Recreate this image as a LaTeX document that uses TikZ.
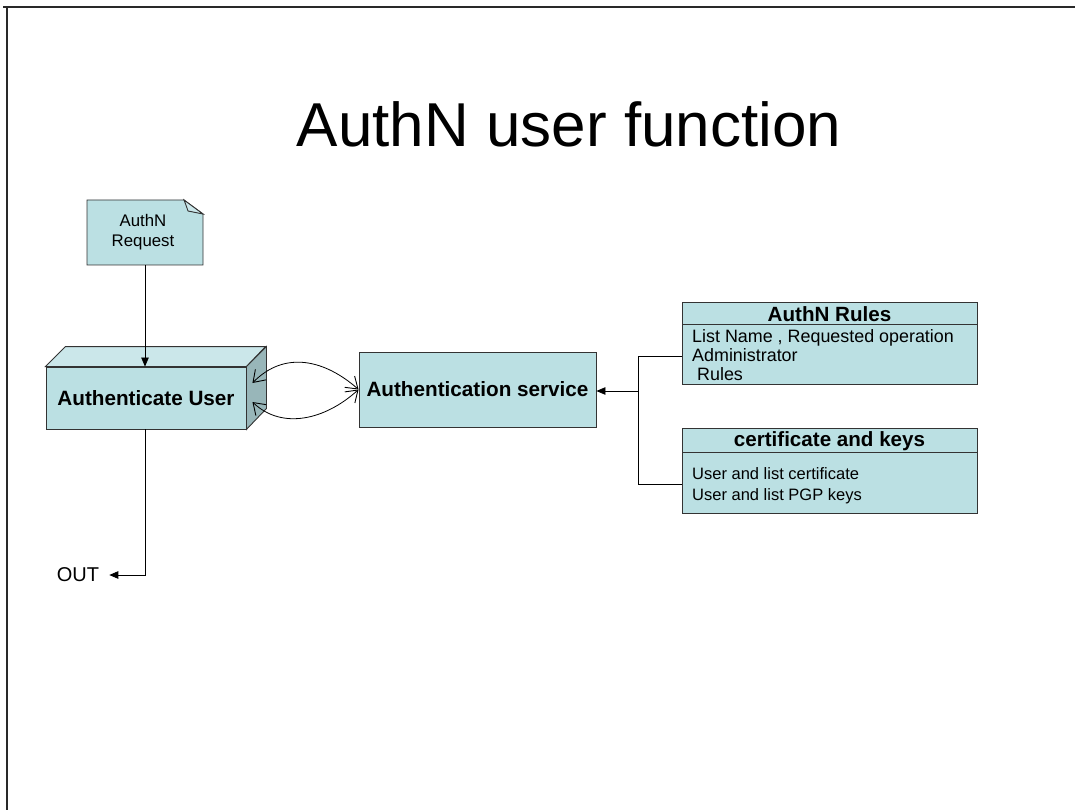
\documentclass[tikz,border=0pt]{standalone}
\usepackage{fontspec}
\setmainfont{Liberation Sans}
\usetikzlibrary{arrows.meta}

\definecolor{boxfill}{HTML}{BBE0E3}
\definecolor{boxtop}{HTML}{CBE7EA}
\definecolor{boxside}{HTML}{98B6B9}
\definecolor{edge}{HTML}{333333}

\tikzset{
  frameline/.style={draw=edge!80!black, line width=1.4pt},
  plainbox/.style={draw=edge, fill=boxfill, line width=0.9pt, inner sep=0pt},
  boldlabel/.style={font=\fontsize{20.7}{24}\selectfont\bfseries, inner sep=0pt},
  headlabel/.style={font=\fontsize{20.6}{24}\selectfont\bfseries, inner sep=0pt},
  rulesline/.style={font=\fontsize{17.9}{20}\selectfont, inner sep=0pt, anchor=base west},
  bodyline/.style={font=\fontsize{16.5}{19}\selectfont, inner sep=0pt, anchor=base west},
  smalllabel/.style={font=\fontsize{16.8}{19.5}\selectfont, align=center, inner sep=0pt},
  wire/.style={draw=black, line width=0.8pt},
  solidtip/.style={-{Triangle[length=9pt,width=7.5pt]}},
  twoway/.style={{Straight Barb[length=11pt,width=15pt,line width=0.9pt]}-{Straight Barb[length=11pt,width=15pt,line width=0.9pt]}},
}

\begin{document}
\begin{tikzpicture}[x=1pt,y=-1pt]
\useasboundingbox (0,0) rectangle (1076,810);

% slide frame
\draw[frameline] (3,7) -- (1075,7);
\draw[frameline] (7,7) -- (7,810);

% title
\node[font=\fontsize{62}{70}\selectfont, inner sep=0pt] (title) at (569,124) {AuthN user function};

% request note with folded corner
\draw[plainbox] (87,200) -- (184,200) -- (203,214) -- (203,265) -- (87,265) -- cycle;
\draw[draw=edge, fill=boxtop, line width=0.9pt] (184,200) .. controls (186,205) and (187,208) .. (188,211) -- (203,214) -- cycle;
\node[smalllabel] (req) at (143,232) {AuthN\\Request};
\coordinate (reqbot) at (145,265);

% authenticate user block (front, top and side faces)
\node[plainbox, minimum width=200pt, minimum height=62pt] (auth) at (146,398) {};
\draw[draw=edge, fill=boxtop, line width=0.9pt] (auth.north west) -- ++(20,-20) -- ++(200,0) -- (auth.north east) -- cycle;
\draw[draw=edge, fill=boxside, line width=0.9pt] (auth.north east) -- ++(20,-20) -- ++(0,62) -- (auth.south east) -- cycle;
\node[boldlabel] (authtext) at (auth.center) {Authenticate User};
\coordinate (sideup) at ([shift={(6pt,15pt)}]auth.east);
\coordinate (sidedown) at ([shift={(6pt,-4pt)}]auth.east);

% authentication service
\node[plainbox, minimum width=237pt, minimum height=75pt] (svc) at (477.5,389.5) {};
\node[boldlabel] (svctext) at (svc.center) {Authentication service};

% rules table
\node[plainbox, minimum width=295pt, minimum height=82pt] (rules) at (829.5,343) {};
\draw[draw=edge, line width=0.9pt] (682,324) -- (977,324);
\node[headlabel] (rulehead) at (829.5,314) {AuthN Rules};
\node[rulesline] (rl1) at (692,342) {List Name , Requested operation};
\node[rulesline] (rl2) at (692,361) {Administrator};
\node[rulesline] (rl3) at (692,380) {\ Rules};
\draw[draw=edge, line width=0.9pt] (682,384) -- (977,384);

% certificates table
\node[plainbox, minimum width=295pt, minimum height=85pt] (cert) at (829.5,470.5) {};
\draw[draw=edge, line width=0.9pt] (682,452) -- (977,452);
\node[headlabel] (certhead) at (829.5,441) {certificate and keys};
\node[bodyline] (cl1) at (692,479) {User and list certificate};
\node[bodyline] (cl2) at (692,500) {User and list PGP keys};

% output label
\node[font=\fontsize{20}{24}\selectfont, inner sep=0pt] (out) at (78,575) {OUT};

% connectors
\draw[wire, solidtip] (reqbot) -- (reqbot |- auth.north);
\draw[wire, solidtip] (auth.south -| reqbot) |- ([xshift=10pt]out.east);

\draw[wire, twoway] (sideup) .. controls (285,350) and (325,360) .. (svc.west);
\draw[wire, twoway] (sidedown) .. controls (282,430) and (325,420) .. (svc.west);

\coordinate (bus) at (638,391);
\coordinate (rulesin) at ([yshift=-13pt]rules.west);
\coordinate (certin) at ([yshift=-13.5pt]cert.west);
\draw[wire] (rulesin) -- (rulesin -| bus) -- (certin -| bus) -- (certin);
\draw[wire, solidtip] (bus) -- (svc.east |- bus);
\end{tikzpicture}
\end{document}
